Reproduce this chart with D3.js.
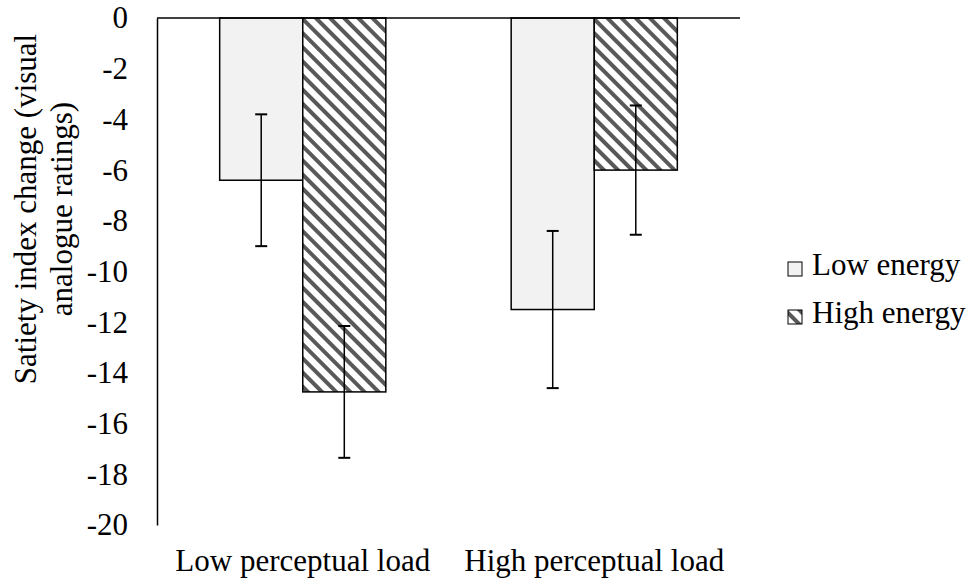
<!DOCTYPE html>
<html>
<head>
<meta charset="utf-8">
<script src="https://cdn.jsdelivr.net/npm/d3@7"></script>
<style>
  body { margin: 0; background: #fff; }
</style>
</head>
<body>
<div id="chart"></div>
<script>
// chart data
const categories = ["Low perceptual load", "High perceptual load"];
const seriesNames = ["Low energy", "High energy"];
const lowEnergy = [-6.4, -11.5];
const highEnergy = [-14.75, -6.0];
const lowEnergyErr = [2.6, 3.1];
const highEnergyErr = [2.6, 2.55];
const yTicks = [0, -2, -4, -6, -8, -10, -12, -14, -16, -18, -20];

const W = 975, H = 588;
const margin = { top: 18, left: 157, right: 235, bottom: 63 };
const plotW = W - margin.left - margin.right;
const plotH = H - margin.top - margin.bottom;
const FONT = "'Liberation Serif', 'Times New Roman', Times, serif";
const FS = 31;

const svg = d3.select("#chart").append("svg")
  .attr("width", W).attr("height", H)
  .style("font-family", FONT);

// hatch pattern for high energy bars
const defs = svg.append("defs");
const pat = defs.append("pattern")
  .attr("id", "hatch")
  .attr("patternUnits", "userSpaceOnUse")
  .attr("width", 10).attr("height", 10)
  .attr("patternTransform", "rotate(45)");
pat.append("rect").attr("width", 10).attr("height", 10).attr("fill", "#fff");
pat.append("rect").attr("x", 0).attr("y", 0).attr("width", 10).attr("height", 4)
  .attr("fill", "#595959");

const g = svg.append("g").attr("transform", `translate(${margin.left},${margin.top})`);

const x = d3.scaleBand().domain(categories).range([0, plotW]).paddingInner(0.43).paddingOuter(0.215);
const xs = d3.scaleBand().domain(seriesNames).range([0, x.bandwidth()]);
const y = d3.scaleLinear().domain([0, -20]).range([0, plotH]);

const fills = ["#f2f2f2", "url(#hatch)"];
const rows = categories.map((c, i) => ({
  cat: c,
  vals: [
    { s: seriesNames[0], v: lowEnergy[i], e: lowEnergyErr[i], k: 0 },
    { s: seriesNames[1], v: highEnergy[i], e: highEnergyErr[i], k: 1 }
  ]
}));

const groups = g.selectAll(".grp").data(rows).enter().append("g")
  .attr("class", "grp")
  .attr("transform", d => `translate(${x(d.cat)},0)`);

groups.selectAll("rect").data(d => d.vals).enter().append("rect")
  .attr("x", d => xs(d.s))
  .attr("y", y(0))
  .attr("width", xs.bandwidth())
  .attr("height", d => y(d.v) - y(0))
  .attr("fill", d => fills[d.k])
  .attr("stroke", "#000")
  .attr("stroke-width", 1.5);

// error bars
const eb = groups.selectAll(".err").data(d => d.vals).enter().append("g").attr("class", "err")
  .attr("stroke", "#000").attr("stroke-width", 1.5);
eb.append("line")
  .attr("x1", d => xs(d.s) + xs.bandwidth() / 2)
  .attr("x2", d => xs(d.s) + xs.bandwidth() / 2)
  .attr("y1", d => y(d.v + d.e))
  .attr("y2", d => y(d.v - d.e));
[1, -1].forEach(sgn => {
  eb.append("line")
    .attr("x1", d => xs(d.s) + xs.bandwidth() / 2 - 6)
    .attr("x2", d => xs(d.s) + xs.bandwidth() / 2 + 6)
    .attr("y1", d => y(d.v + sgn * d.e))
    .attr("y2", d => y(d.v + sgn * d.e))
    .attr("stroke-width", 2);
});

// axes
const yAxisG = g.append("g").call(d3.axisLeft(y).tickValues(yTicks).tickSize(0).tickPadding(29).tickFormat(d => String(d)));
yAxisG.attr("font-family", FONT).attr("font-size", FS);
yAxisG.select(".domain").attr("stroke", "#000").attr("stroke-width", 1.5);
yAxisG.selectAll("text").attr("fill", "#000");

g.append("line").attr("x1", 0).attr("x2", plotW).attr("y1", y(0)).attr("y2", y(0))
  .attr("stroke", "#000").attr("stroke-width", 1.5);

// category labels
g.selectAll(".cat").data(categories).enter().append("text")
  .attr("class", "cat")
  .attr("x", d => x(d) + x.bandwidth() / 2)
  .attr("y", plotH + 46)
  .attr("text-anchor", "middle")
  .attr("font-size", FS)
  .text(d => d);

// y title
const title = svg.append("text")
  .attr("transform", "translate(36,209) rotate(-90)")
  .attr("text-anchor", "middle")
  .attr("font-size", FS);
title.append("tspan").attr("x", 0).attr("y", 0).text("Satiety index change (visual");
title.append("tspan").attr("x", 0).attr("y", 36).text("analogue ratings)");

// legend
const leg = svg.append("g").attr("transform", "translate(788,262)");
const li = leg.selectAll("g").data(seriesNames).enter().append("g")
  .attr("transform", (d, i) => `translate(0,${i * 48})`);
li.append("rect").attr("width", 14).attr("height", 14)
  .attr("fill", (d, i) => fills[i]).attr("stroke", "#000").attr("stroke-width", 1);
li.append("text").attr("x", 24).attr("y", 13).attr("font-size", FS).text(d => d);
</script>
</body>
</html>
